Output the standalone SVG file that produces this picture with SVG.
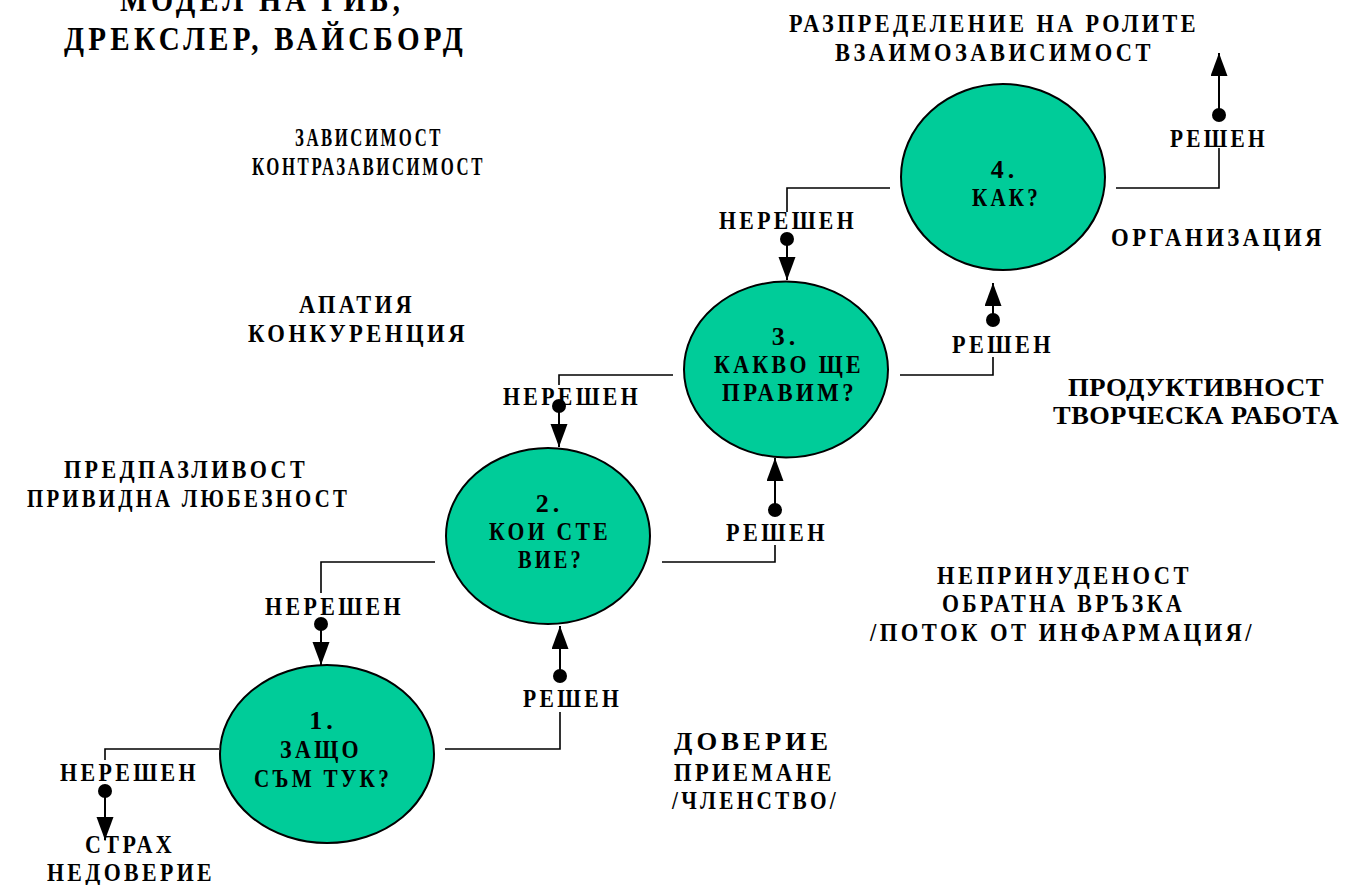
<svg xmlns="http://www.w3.org/2000/svg" width="1358" height="885" viewBox="0 0 1358 885">
  <style>
    .t { font-family: "Liberation Serif", "Times New Roman", serif; font-weight: bold; font-size: 26px; fill: #000; text-anchor: middle; letter-spacing: 4px; }
    .title { font-size: 34px; letter-spacing: 5px; }
    .tight { letter-spacing: 0.5px; }
    .stage { fill: #00CC99; stroke: #000; stroke-width: 2; }
    .wire { fill: none; stroke: #000; stroke-width: 1.6; }
    .shaft { fill: none; stroke: #000; stroke-width: 2; marker-end: url(#head); }
    .dot { fill: #000; }
  </style>
  <defs>
    <marker id="head" markerUnits="userSpaceOnUse" markerWidth="24" markerHeight="18" refX="23" refY="8.5" orient="auto">
      <path d="M0,0 L23,8.5 L0,17 Z" fill="#000"/>
    </marker>
  </defs>
  <rect width="1358" height="885" fill="#fff"/>

  <!-- heading -->
  <g id="heading">
    <text class="t title" x="262" y="11" textLength="284" lengthAdjust="spacingAndGlyphs">МОДЕЛ НА ГИБ,</text>
    <text class="t title" x="265.5" y="50" textLength="403" lengthAdjust="spacingAndGlyphs">ДРЕКСЛЕР, ВАЙСБОРД</text>
  </g>

  <!-- connectors: unresolved go down-left, resolved go up-right -->
  <g id="connectors">
    <polyline class="wire" points="219,749 105,749 105,760"/>
    <circle class="dot" cx="105" cy="791" r="7"/>
    <line class="shaft" x1="105" y1="791" x2="105" y2="840"/>

    <polyline class="wire" points="445,749 560,749 560,712"/>
    <circle class="dot" cx="560" cy="676" r="7"/>
    <line class="shaft" x1="560" y1="676" x2="560" y2="626"/>

    <polyline class="wire" points="435,562 321,562 321,593"/>
    <circle class="dot" cx="321" cy="624" r="7"/>
    <line class="shaft" x1="321" y1="624" x2="321" y2="665"/>

    <polyline class="wire" points="662,562 775,562 775,545"/>
    <circle class="dot" cx="775" cy="510" r="7"/>
    <line class="shaft" x1="775" y1="510" x2="775" y2="458"/>

    <polyline class="wire" points="673,375 559,375 559,385"/>
    <circle class="dot" cx="559" cy="406" r="7"/>
    <line class="shaft" x1="559" y1="406" x2="559" y2="447"/>

    <polyline class="wire" points="900,375 993,375 993,357"/>
    <circle class="dot" cx="993" cy="320" r="7"/>
    <line class="shaft" x1="993" y1="320" x2="993" y2="283"/>

    <polyline class="wire" points="890,188 787,188 787,212"/>
    <circle class="dot" cx="787" cy="239" r="7"/>
    <line class="shaft" x1="787" y1="239" x2="787" y2="280"/>

    <polyline class="wire" points="1116,188 1219,188 1219,148"/>
    <circle class="dot" cx="1219" cy="115" r="7"/>
    <line class="shaft" x1="1219" y1="115" x2="1219" y2="53"/>
  </g>

  <!-- stage 1 -->
  <g id="stage1">
    <ellipse class="stage" cx="327" cy="754" rx="107" ry="89"/>
    <text class="t" x="323" y="729">1.</text>
    <text class="t" x="321" y="758" textLength="82" lengthAdjust="spacingAndGlyphs">ЗАЩО</text>
    <text class="t" x="323" y="787" textLength="138" lengthAdjust="spacingAndGlyphs">СЪМ ТУК?</text>
  </g>

  <!-- stage 2 -->
  <g id="stage2">
    <ellipse class="stage" cx="548" cy="536" rx="102" ry="88"/>
    <text class="t" x="549.5" y="512">2.</text>
    <text class="t" x="550" y="540" textLength="122" lengthAdjust="spacingAndGlyphs">КОИ СТЕ</text>
    <text class="t" x="551" y="568" textLength="66" lengthAdjust="spacingAndGlyphs">ВИЕ?</text>
  </g>

  <!-- stage 3 -->
  <g id="stage3">
    <ellipse class="stage" cx="786" cy="369.5" rx="102" ry="88"/>
    <text class="t" x="785.5" y="345">3.</text>
    <text class="t" x="789" y="373" textLength="150" lengthAdjust="spacingAndGlyphs">КАКВО ЩЕ</text>
    <text class="t" x="789.5" y="401" textLength="135" lengthAdjust="spacingAndGlyphs">ПРАВИМ?</text>
  </g>

  <!-- stage 4 -->
  <g id="stage4">
    <ellipse class="stage" cx="1003" cy="177" rx="102" ry="93"/>
    <text class="t" x="1004.5" y="178">4.</text>
    <text class="t" x="1006.5" y="206" textLength="69" lengthAdjust="spacingAndGlyphs">КАК?</text>
  </g>

  <!-- branch labels -->
  <g id="branch-labels">
    <text class="t" x="129.5" y="781" textLength="139" lengthAdjust="spacingAndGlyphs">НЕРЕШЕН</text>
    <text class="t" x="572.5" y="707" textLength="99" lengthAdjust="spacingAndGlyphs">РЕШЕН</text>
    <text class="t" x="334.5" y="615" textLength="139" lengthAdjust="spacingAndGlyphs">НЕРЕШЕН</text>
    <text class="t" x="777" y="541" textLength="102" lengthAdjust="spacingAndGlyphs">РЕШЕН</text>
    <text class="t" x="572" y="405" textLength="138" lengthAdjust="spacingAndGlyphs">НЕРЕШЕН</text>
    <text class="t" x="1003" y="353" textLength="102" lengthAdjust="spacingAndGlyphs">РЕШЕН</text>
    <text class="t" x="788" y="229" textLength="138" lengthAdjust="spacingAndGlyphs">НЕРЕШЕН</text>
    <text class="t" x="1219" y="147" textLength="98" lengthAdjust="spacingAndGlyphs">РЕШЕН</text>
  </g>

  <!-- climate notes -->
  <g id="notes-fear">
    <text class="t" x="130" y="853" textLength="90" lengthAdjust="spacingAndGlyphs">СТРАХ</text>
    <text class="t" x="131" y="881" textLength="168" lengthAdjust="spacingAndGlyphs">НЕДОВЕРИЕ</text>
  </g>
  <g id="notes-trust">
    <text class="t" x="753" y="750" textLength="158" lengthAdjust="spacingAndGlyphs">ДОВЕРИЕ</text>
    <text class="t" x="754.5" y="781" textLength="161" lengthAdjust="spacingAndGlyphs">ПРИЕМАНЕ</text>
    <text class="t" x="755.5" y="809" textLength="167" lengthAdjust="spacingAndGlyphs">/ЧЛЕНСТВО/</text>
  </g>
  <g id="notes-caution">
    <text class="t" x="186" y="478" textLength="244" lengthAdjust="spacingAndGlyphs">ПРЕДПАЗЛИВОСТ</text>
    <text class="t" x="188.5" y="507" textLength="323" lengthAdjust="spacingAndGlyphs">ПРИВИДНА ЛЮБЕЗНОСТ</text>
  </g>
  <g id="notes-spontaneity">
    <text class="t" x="1064.5" y="584" textLength="255" lengthAdjust="spacingAndGlyphs">НЕПРИНУДЕНОСТ</text>
    <text class="t" x="1063.5" y="612" textLength="243" lengthAdjust="spacingAndGlyphs">ОБРАТНА ВРЪЗКА</text>
    <text class="t" x="1062.5" y="641" textLength="385" lengthAdjust="spacingAndGlyphs">/ПОТОК ОТ ИНФАРМАЦИЯ/</text>
  </g>
  <g id="notes-apathy">
    <text class="t" x="357" y="313" textLength="116" lengthAdjust="spacingAndGlyphs">АПАТИЯ</text>
    <text class="t" x="358" y="342" textLength="220" lengthAdjust="spacingAndGlyphs">КОНКУРЕНЦИЯ</text>
  </g>
  <g id="notes-productivity">
    <text class="t tight" x="1196" y="396" textLength="256" lengthAdjust="spacingAndGlyphs">ПРОДУКТИВНОСТ</text>
    <text class="t tight" x="1196" y="424" textLength="286" lengthAdjust="spacingAndGlyphs">ТВОРЧЕСКА РАБОТА</text>
  </g>
  <g id="notes-dependence">
    <text class="t" x="369" y="146" textLength="148" lengthAdjust="spacingAndGlyphs">ЗАВИСИМОСТ</text>
    <text class="t" x="368.5" y="175" textLength="233" lengthAdjust="spacingAndGlyphs">КОНТРАЗАВИСИМОСТ</text>
  </g>
  <g id="notes-organisation">
    <text class="t" x="1218" y="246" textLength="214" lengthAdjust="spacingAndGlyphs">ОРГАНИЗАЦИЯ</text>
  </g>
  <g id="notes-roles">
    <text class="t" x="994" y="32" textLength="410" lengthAdjust="spacingAndGlyphs">РАЗПРЕДЕЛЕНИЕ НА РОЛИТЕ</text>
    <text class="t" x="994.5" y="61" textLength="319" lengthAdjust="spacingAndGlyphs">ВЗАИМОЗАВИСИМОСТ</text>
  </g>
</svg>
